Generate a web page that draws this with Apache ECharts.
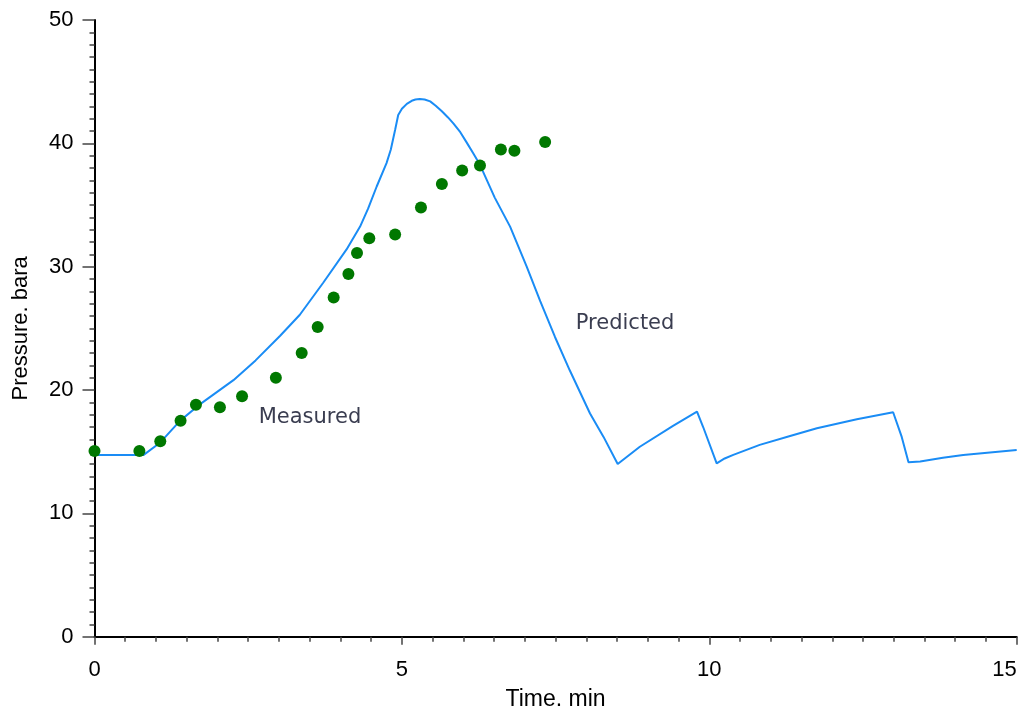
<!DOCTYPE html>
<html>
<head>
<meta charset="utf-8">
<script src="https://cdn.jsdelivr.net/npm/echarts@6/dist/echarts.min.js"></script>
<style>html,body{margin:0;padding:0;background:#fff;overflow:hidden;}#c{width:1026px;height:715px;}</style>
</head>
<body>
<div id="c"></div>
<script>
// Measured data (green dots)
const measuredTime = [0.0, 0.73, 1.07, 1.40, 1.65, 2.04, 2.40, 2.95, 3.37, 3.63, 3.89, 4.13, 4.27, 4.47, 4.89, 5.31, 5.65, 5.98, 6.27, 6.61, 6.83, 7.33];
const measuredPressure = [15.06, 15.06, 15.85, 17.5, 18.8, 18.6, 19.5, 21.0, 23.0, 25.1, 27.5, 29.4, 31.1, 32.3, 32.6, 34.8, 36.7, 37.8, 38.2, 39.5, 39.4, 40.1];

// Predicted data (blue line)
const predictedTime = [0, 0.80, 1.06, 1.39, 1.73, 2.26, 2.62, 3.02, 3.34, 3.72, 4.10, 4.32, 4.45, 4.59, 4.75, 4.82, 4.89, 4.94, 5.00, 5.08, 5.16, 5.22, 5.29, 5.37, 5.46, 5.55, 5.65, 5.75, 5.84, 5.95, 6.05, 6.16, 6.27, 6.51, 6.76, 7.03, 7.25, 7.49, 7.73, 8.06, 8.28, 8.51, 8.87, 9.41, 9.80, 9.90, 10.12, 10.25, 10.39, 10.82, 11.30, 11.75, 12.40, 12.99, 13.13, 13.24, 13.43, 13.80, 14.13, 15.0];
const predictedPressure = [14.74, 14.74, 15.7, 17.5, 18.9, 20.8, 22.4, 24.4, 26.1, 28.7, 31.4, 33.25, 34.7, 36.5, 38.4, 39.5, 41.1, 42.3, 42.8, 43.2, 43.45, 43.55, 43.6, 43.55, 43.4, 43.05, 42.6, 42.1, 41.6, 40.9, 40.1, 39.2, 38.26, 35.6, 33.25, 30.0, 27.2, 24.3, 21.6, 18.1, 16.2, 14.0, 15.4, 17.1, 18.25, 17.0, 14.06, 14.45, 14.74, 15.55, 16.25, 16.9, 17.63, 18.2, 16.2, 14.14, 14.2, 14.5, 14.74, 15.14];

// Axis ticks
const xTicks = [0, 5, 10, 15];
const yTicks = [0, 10, 20, 30, 40, 50];

// Annotations
const annotations = [
  { text: 'Measured', time: 3.505, pressure: 17.8 },
  { text: 'Predicted', time: 8.63, pressure: 25.4 }
];

const chart = echarts.init(document.getElementById('c'), null, { renderer: 'canvas' });

const axisFont = { fontFamily: "'Liberation Sans', Arial, sans-serif", fontSize: 22, color: '#000' };

chart.setOption({
  animation: false,
  backgroundColor: '#fff',
  grid: { left: 94.5, right: 9.3, top: 20, bottom: 78.3, containLabel: false, outerBoundsMode: 'none' },
  xAxis: {
    type: 'value',
    min: xTicks[0], max: xTicks[xTicks.length - 1], interval: 5,
    name: 'Time. min', nameLocation: 'middle', nameGap: 51,
    nameTextStyle: { fontFamily: "'Liberation Sans', Arial, sans-serif", fontSize: 23, color: '#000' },
    axisLine: { show: true, onZero: false, lineStyle: { color: '#000', width: 2 } },
    axisTick: { show: true, length: 8, lineStyle: { color: '#444', width: 1.5 } },
    minorTick: { show: true, splitNumber: 10, length: 5, lineStyle: { color: '#444', width: 1.5 } },
    axisLabel: Object.assign({ margin: 22, alignMaxLabel: 'right' }, axisFont),
    splitLine: { show: false }
  },
  yAxis: {
    type: 'value',
    min: yTicks[0], max: yTicks[yTicks.length - 1], interval: 10,
    name: 'Pressure. bara', nameLocation: 'middle', nameGap: 63, nameRotate: 90,
    nameTextStyle: { fontFamily: "'Liberation Sans', Arial, sans-serif", fontSize: 22, color: '#000' },
    axisLine: { show: true, onZero: false, lineStyle: { color: '#000', width: 2 } },
    axisTick: { show: true, length: 12, lineStyle: { color: '#444', width: 1.5 } },
    minorTick: { show: true, splitNumber: 10, length: 5, lineStyle: { color: '#444', width: 1.5 } },
    axisLabel: Object.assign({ margin: 21 }, axisFont),
    splitLine: { show: false }
  },
  series: [
    {
      name: 'Predicted',
      type: 'line',
      data: predictedTime.map((t, i) => [t, predictedPressure[i]]),
      showSymbol: false,
      symbol: 'none',
      smooth: false,
      lineStyle: { color: '#1a8cf5', width: 2 },
      z: 2
    },
    {
      name: 'Measured',
      type: 'scatter',
      data: measuredTime.map((t, i) => [t, measuredPressure[i]]),
      symbolSize: 12,
      itemStyle: { color: '#007800', opacity: 1 },
      z: 3
    },
    {
      name: 'labels',
      type: 'scatter',
      data: annotations.map(a => ({ value: [a.time, a.pressure], name: a.text })),
      symbolSize: 0,
      silent: true,
      itemStyle: { opacity: 1 },
      label: {
        show: true,
        position: 'inside',
        formatter: p => p.name,
        fontFamily: "'DejaVu Sans', Verdana, sans-serif",
        fontSize: 21,
        color: '#3a3d50'
      },
      z: 4
    }
  ]
});
</script>
</body>
</html>
